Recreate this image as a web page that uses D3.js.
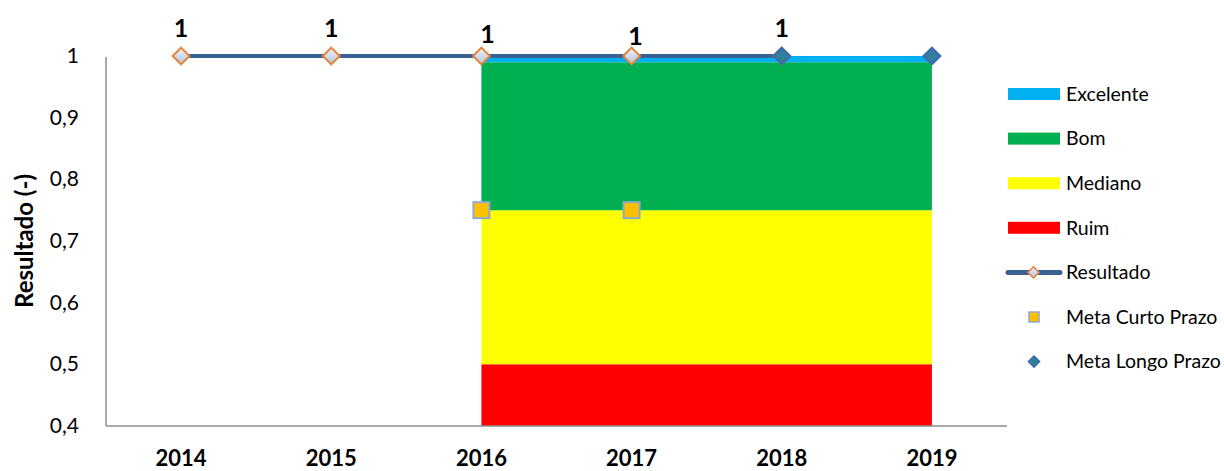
<!DOCTYPE html>
<html>
<head>
<meta charset="utf-8">
<script src="https://cdn.jsdelivr.net/npm/d3@7"></script>
<style>
  body { margin: 0; background: #fff; }
  svg { display: block; font-family: Lato, "Open Sans", sans-serif; }
</style>
</head>
<body>
<svg id="chart"></svg>
<script>
// Chart data
const years = ["2014", "2015", "2016", "2017", "2018", "2019"];
const ruim = [null, null, 0.5, 0.5, 0.5, 0.5];
const mediano = [null, null, 0.25, 0.25, 0.25, 0.25];
const bom = [null, null, 0.24, 0.24, 0.24, 0.24];
const excelente = [null, null, 0.01, 0.01, 0.01, 0.01];
const resultado = [1, 1, 1, 1, 1, null];
const metaCurto = [null, null, 0.75, 0.75, null, null];
const metaLongo = [null, null, null, null, 1, 1];
const bandKeys = ["Ruim", "Mediano", "Bom", "Excelente"];
const bandColors = { Ruim: "#ff0000", Mediano: "#ffff00", Bom: "#00b050", Excelente: "#00b0f0" };

const width = 1224, height = 471;
const svg = d3.select("#chart").attr("width", width).attr("height", height);

// Plot area
const plotLeft = 106, plotRight = 1007, plotTop = 56, plotBottom = 426;

const x = d3.scalePoint().domain(years).range([plotLeft, plotRight]).padding(0.5);
const y = d3.scaleLinear().domain([0.4, 1]).range([plotBottom, plotTop]);

const ptBR = d3.formatLocale({ decimal: ",", thousands: ".", grouping: [3], currency: ["R$", ""] });
const fmt = ptBR.format(".1~f");

// Gradient for the Resultado markers
const defs = svg.append("defs");
const grad = defs.append("linearGradient").attr("id", "diamondFill")
  .attr("x1", 0).attr("y1", 0).attr("x2", 0).attr("y2", 1);
grad.append("stop").attr("offset", "0%").attr("stop-color", "#eef2f9");
grad.append("stop").attr("offset", "100%").attr("stop-color", "#b4c5de");

defs.append("clipPath").attr("id", "plotClip")
  .append("rect").attr("x", plotLeft).attr("y", plotTop - 1)
  .attr("width", plotRight - plotLeft).attr("height", plotBottom - plotTop + 1);

// Stacked bands
const rows = years.map((yr, i) => ({
  year: yr, Ruim: ruim[i], Mediano: mediano[i], Bom: bom[i], Excelente: excelente[i]
})).filter(d => d.Ruim !== null);

const stacked = d3.stack().keys(bandKeys)(rows);

const area = d3.area()
  .x(d => x(d.data.year))
  .y0(d => y(d[0]))
  .y1(d => y(d[1]));

svg.append("g").attr("clip-path", "url(#plotClip)")
  .selectAll("path")
  .data(stacked)
  .join("path")
  .attr("d", area)
  .attr("fill", d => bandColors[d.key]);

// Axes lines
svg.append("line")
  .attr("x1", plotLeft).attr("x2", plotLeft).attr("y1", plotTop + 1).attr("y2", plotBottom)
  .attr("stroke", "#8c8c8c").attr("stroke-width", 1.5);
svg.append("line")
  .attr("x1", plotLeft).attr("x2", plotRight).attr("y1", plotBottom).attr("y2", plotBottom)
  .attr("stroke", "#8c8c8c").attr("stroke-width", 1.5);

// Y tick labels
svg.append("g")
  .selectAll("text")
  .data(y.ticks(6))
  .join("text")
  .attr("x", 79)
  .attr("y", d => y(d))
  .attr("dy", "0.33em")
  .attr("text-anchor", "end")
  .attr("font-size", 21)
  .attr("fill", "#000")
  .text(d => fmt(d));

// X tick labels
svg.append("g")
  .selectAll("text")
  .data(years)
  .join("text")
  .attr("x", d => x(d))
  .attr("y", 466)
  .attr("text-anchor", "middle")
  .attr("font-size", 22)
  .attr("font-weight", "bold")
  .attr("fill", "#000")
  .text(d => d);

// Y axis title
svg.append("text")
  .attr("transform", `translate(33, ${(plotTop + plotBottom) / 2}) rotate(-90)`)
  .attr("text-anchor", "middle")
  .attr("font-size", 24)
  .attr("font-weight", "bold")
  .text("Resultado (-)");

// Resultado line
const resPts = years.map((yr, i) => ({ year: yr, v: resultado[i] })).filter(d => d.v !== null);
svg.append("path")
  .datum(resPts)
  .attr("d", d3.line().x(d => x(d.year)).y(d => y(d.v)))
  .attr("fill", "none")
  .attr("stroke", "#3c6295")
  .attr("stroke-width", 4);

const diamond = d3.symbol().type(d3.symbolDiamond2);

svg.append("g")
  .selectAll("path")
  .data(resPts)
  .join("path")
  .attr("transform", d => `translate(${x(d.year)},${y(d.v)})`)
  .attr("d", diamond.size(180)())
  .attr("fill", "url(#diamondFill)")
  .attr("stroke", "#e58238")
  .attr("stroke-width", 2);

// Meta Curto Prazo squares
const curtoPts = years.map((yr, i) => ({ year: yr, v: metaCurto[i] })).filter(d => d.v !== null);
svg.append("g")
  .selectAll("rect")
  .data(curtoPts)
  .join("rect")
  .attr("x", d => x(d.year) - 8)
  .attr("y", d => y(d.v) - 8)
  .attr("width", 16)
  .attr("height", 16)
  .attr("fill", "#ffc000")
  .attr("stroke", "#8fa9cf")
  .attr("stroke-width", 2);

// Meta Longo Prazo diamonds
const longoPts = years.map((yr, i) => ({ year: yr, v: metaLongo[i] })).filter(d => d.v !== null);
svg.append("g")
  .selectAll("path")
  .data(longoPts)
  .join("path")
  .attr("transform", d => `translate(${x(d.year)},${y(d.v)})`)
  .attr("d", diamond.size(180)())
  .attr("fill", "#30809c")
  .attr("stroke", "#3d69b0")
  .attr("stroke-width", 2);

// Data labels for Resultado (2016 and 2017 labels were nudged in the original)
const labelNudge = { "2016": [6, 6], "2017": [4, 8] };
svg.append("g")
  .selectAll("text")
  .data(resPts)
  .join("text")
  .attr("x", d => x(d.year) + (labelNudge[d.year] ? labelNudge[d.year][0] : 0))
  .attr("y", d => y(d.v) - 19 + (labelNudge[d.year] ? labelNudge[d.year][1] : 0))
  .attr("text-anchor", "middle")
  .attr("font-size", 25)
  .attr("font-weight", "bold")
  .attr("fill", "#000")
  .text(d => fmt(d.v));

// Legend
const legendItems = [
  { label: "Excelente", kind: "band", color: bandColors.Excelente },
  { label: "Bom", kind: "band", color: bandColors.Bom },
  { label: "Mediano", kind: "band", color: bandColors.Mediano },
  { label: "Ruim", kind: "band", color: bandColors.Ruim },
  { label: "Resultado", kind: "line" },
  { label: "Meta Curto Prazo", kind: "square" },
  { label: "Meta Longo Prazo", kind: "diamond" }
];

const legend = svg.append("g");
legendItems.forEach((item, i) => {
  const cy = 94 + i * 44.6;
  const g = legend.append("g").attr("transform", `translate(0, ${cy})`);
  if (item.kind === "band") {
    g.append("rect").attr("x", 1008).attr("y", -6).attr("width", 52).attr("height", 12).attr("fill", item.color);
  } else if (item.kind === "line") {
    g.append("line").attr("x1", 1008).attr("x2", 1060).attr("y1", 0).attr("y2", 0)
      .attr("stroke", "#3c6295").attr("stroke-width", 5).attr("stroke-linecap", "round");
    g.append("path").attr("transform", "translate(1033.5,0)").attr("d", diamond.size(80)())
      .attr("fill", "url(#diamondFill)").attr("stroke", "#e58238").attr("stroke-width", 1.5);
  } else if (item.kind === "square") {
    g.append("rect").attr("x", 1029).attr("y", -5).attr("width", 10).attr("height", 10)
      .attr("fill", "#ffc000").attr("stroke", "#8fa9cf").attr("stroke-width", 1.5);
  } else {
    g.append("path").attr("transform", "translate(1034,0)").attr("d", diamond.size(80)())
      .attr("fill", "#30809c").attr("stroke", "#3d69b0").attr("stroke-width", 1.5);
  }
  g.append("text")
    .attr("x", 1066)
    .attr("y", 0)
    .attr("dy", "0.35em")
    .attr("font-size", 19.5)
    .attr("fill", "#000")
    .text(item.label);
});
</script>
</body>
</html>
